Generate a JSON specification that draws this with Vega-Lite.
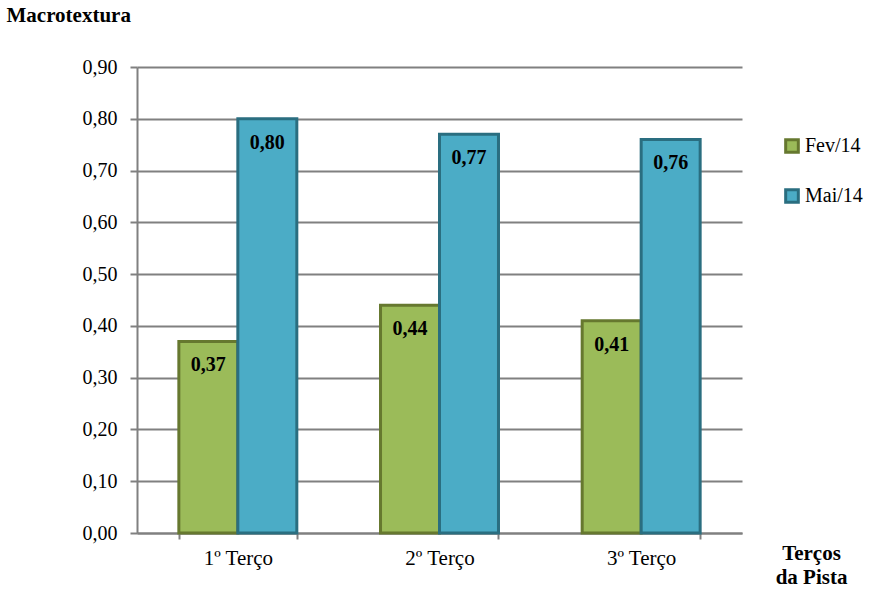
{
  "$schema": "https://vega.github.io/schema/vega-lite/v6.json",
  "autosize": {"type": "none"},
  "width": 605,
  "height": 466,
  "padding": {"left": 137, "top": 67, "right": 145, "bottom": 69},
  "background": "white",
  "config": {
    "locale": {"number": {"decimal": ",", "thousands": ".", "grouping": [3], "currency": ["", ""]}},
    "font": "Times New Roman, Liberation Serif, serif",
    "view": {"stroke": null}
  },
  "data": {
    "values": [
      {"terco": "1º Terço", "serie": "Fev/14", "valor": 0.37},
      {"terco": "1º Terço", "serie": "Mai/14", "valor": 0.80},
      {"terco": "2º Terço", "serie": "Fev/14", "valor": 0.44},
      {"terco": "2º Terço", "serie": "Mai/14", "valor": 0.77},
      {"terco": "3º Terço", "serie": "Fev/14", "valor": 0.41},
      {"terco": "3º Terço", "serie": "Mai/14", "valor": 0.76}
    ]
  },
  "encoding": {
    "x": {
      "field": "terco", "type": "nominal", "sort": null,
      "scale": {"paddingInner": 0.415, "paddingOuter": 0.2075},
      "axis": {
        "title": ["Terços", "da Pista"],
        "titleFont": "Times New Roman, Liberation Serif, serif", "titleFontSize": 21, "titleFontWeight": "bold", "titleColor": "black",
        "titleX": 674, "titleY": 9, "titleAlign": "center", "titleBaseline": "top", "titleLineHeight": 24,
        "labelFont": "Times New Roman, Liberation Serif, serif", "labelFontSize": 21, "labelColor": "black", "labelPadding": 8,
        "labelAngle": 0,
        "tickBand": "extent", "tickSize": 6, "tickColor": "#808080", "tickWidth": 2,
        "domainColor": "#808080", "domainWidth": 2
      }
    },
    "y": {
      "field": "valor", "type": "quantitative",
      "scale": {"domain": [0, 0.9]},
      "axis": {
        "values": [0, 0.1, 0.2, 0.3, 0.4, 0.5, 0.6, 0.7, 0.8, 0.9],
        "format": ".2f",
        "title": "Macrotextura",
        "titleAngle": 0, "titleAlign": "left", "titleBaseline": "middle",
        "titleX": -131, "titleY": -52,
        "titleFont": "Times New Roman, Liberation Serif, serif", "titleFontSize": 21, "titleFontWeight": "bold", "titleColor": "black",
        "labelFont": "Times New Roman, Liberation Serif, serif", "labelFontSize": 20, "labelColor": "black", "labelPadding": 13,
        "tickSize": 7, "tickColor": "#808080", "tickWidth": 2,
        "domainColor": "#808080", "domainWidth": 2,
        "gridColor": "#808080", "gridWidth": 2
      }
    },
    "xOffset": {"field": "serie", "type": "nominal", "scale": {"paddingInner": 0, "paddingOuter": 0}}
  },
  "layer": [
    {
      "mark": {"type": "bar", "strokeWidth": 3, "strokeJoin": "miter"},
      "encoding": {
        "fill": {
          "field": "serie", "type": "nominal",
          "scale": {"domain": ["Fev/14", "Mai/14"], "range": ["#9BBB59", "#4BACC6"]},
          "legend": {
            "title": null, "orient": "none", "legendX": 645, "legendY": 69,
            "symbolType": "square", "symbolSize": 160, "symbolStrokeWidth": 3,
            "labelFont": "Times New Roman, Liberation Serif, serif", "labelFontSize": 20, "labelColor": "black",
            "rowPadding": 24, "labelOffset": 3
          }
        },
        "stroke": {
          "field": "serie", "type": "nominal",
          "scale": {"domain": ["Fev/14", "Mai/14"], "range": ["#66782F", "#2A6E80"]},
          "legend": {
            "title": null, "orient": "none", "legendX": 645, "legendY": 69,
            "symbolType": "square", "symbolSize": 160, "symbolStrokeWidth": 3,
            "labelFont": "Times New Roman, Liberation Serif, serif", "labelFontSize": 20, "labelColor": "black",
            "rowPadding": 24, "labelOffset": 3
          }
        }
      }
    },
    {
      "mark": {"type": "text", "dy": 24, "baseline": "middle", "align": "center", "font": "Times New Roman, Liberation Serif, serif", "fontSize": 20, "fontWeight": "bold", "color": "black"},
      "encoding": {
        "text": {"field": "valor", "type": "quantitative", "format": ".2f"}
      }
    }
  ]
}
